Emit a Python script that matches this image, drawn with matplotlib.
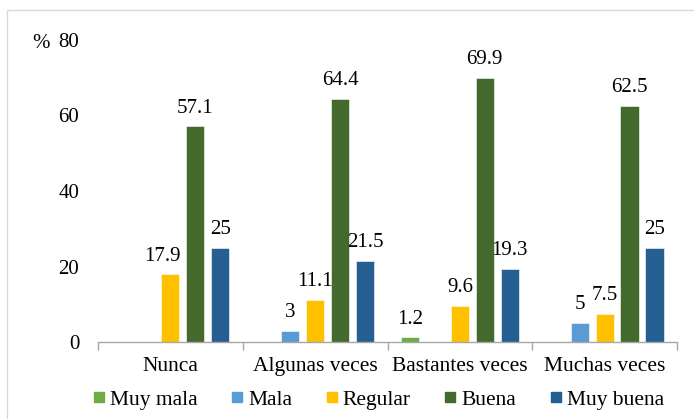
import matplotlib
matplotlib.use("Agg")
import matplotlib.pyplot as plt
from matplotlib.patches import Rectangle
from matplotlib.lines import Line2D
import numpy as np

plt.rcParams['font.family'] = ['Liberation Serif', 'DejaVu Serif']

categories = ["Nunca", "Algunas veces", "Bastantes veces", "Muchas veces"]
series_names = ["Muy mala", "Mala", "Regular", "Buena", "Muy buena"]
muy_mala = [0, 0, 1.2, 0]
mala = [0, 3, 0, 5]
regular = [17.9, 11.1, 9.6, 7.5]
buena = [57.1, 64.4, 69.9, 62.5]
muy_buena = [25, 21.5, 19.3, 25]
y_ticks = [0, 20, 40, 60, 80]

series = [muy_mala, mala, regular, buena, muy_buena]
colors = ["#6FAB46", "#5B9BD5", "#FFC000", "#44692C", "#255E91"]

# horizontal nudge (points) for labels that were moved aside
label_nudge = {(2, 0): -6}

W, H = 694, 419
fig = plt.figure(figsize=(W / 100, H / 100), dpi=100)
ax = fig.add_axes([98 / W, 1 - 342 / H, (677 - 98) / W, (342 - 40) / H])

# outer frame
fig.patches.append(Rectangle((7 / W, -0.1), 1.2, 1 - 10 / H + 0.1,
                             transform=fig.transFigure, fill=False,
                             edgecolor="#D9D9D9", linewidth=1.0))

x = np.arange(len(categories))
step = 0.172
width = 0.126
for i, (name, vals, col) in enumerate(zip(series_names, series, colors)):
    pos = x + (i - 2) * step
    bars = ax.bar(pos, vals, width, color=col, label=name,
                  edgecolor="white", linewidth=0.4)
    for j, (b, v) in enumerate(zip(bars, vals)):
        if v > 0:
            dx = label_nudge.get((i, j), 0)
            ax.annotate(f"{v:g}", (b.get_x() + b.get_width() / 2, v),
                        xytext=(dx, 10), textcoords="offset points",
                        ha="center", va="baseline", fontsize=15)

ax.set_xlim(-0.5, len(categories) - 0.5)
ax.set_ylim(0, 80)
ax.set_yticks(y_ticks)
ax.set_yticklabels([str(t) for t in y_ticks], fontsize=15)
ax.tick_params(axis="y", length=0, pad=13.5)

ax.set_xticks(x)
ax.set_xticklabels(categories, fontsize=15.5)
ax.tick_params(axis="x", which="major", length=0, pad=11)
ax.set_xticks(np.arange(len(categories) + 1) - 0.5, minor=True)
ax.tick_params(axis="x", which="minor", length=6, color="#A6A6A6", width=1)

for s in ["top", "right", "left"]:
    ax.spines[s].set_visible(False)
ax.spines["bottom"].set_color("#A6A6A6")
ax.spines["bottom"].set_linewidth(1)

fig.text(41 / W, 1 - 43 / H, "%", fontsize=15, ha="center", va="center")

handles = [Line2D([], [], marker="s", linestyle="none", markersize=7.5,
                  markerfacecolor=c, markeredgecolor=c) for c in colors]
fig.legend(handles, series_names, loc="center", ncol=5,
           bbox_to_anchor=(376 / W, 1 - 400 / H), frameon=False,
           fontsize=15.5, handletextpad=0.0, columnspacing=1.35,
           handlelength=1.0, borderaxespad=0, borderpad=0)

fig.savefig("out.png", dpi=100)
